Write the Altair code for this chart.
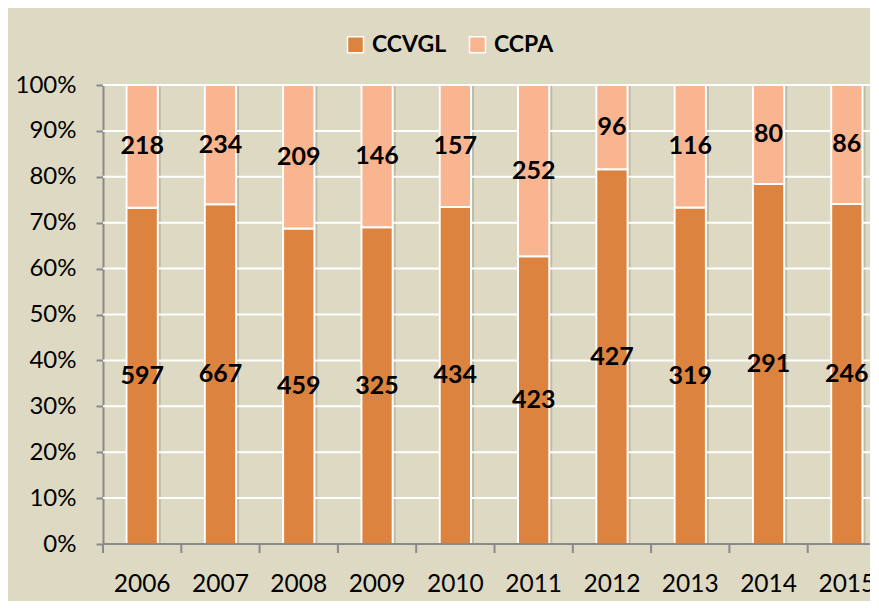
import altair as alt
import pandas as pd

years = ["2006", "2007", "2008", "2009", "2010", "2011", "2012", "2013", "2014", "2015"]
ccvgl = [597, 667, 459, 325, 434, 423, 427, 319, 291, 246]
ccpa = [218, 234, 209, 146, 157, 252, 96, 116, 80, 86]
series = ["CCVGL", "CCPA"]
colors = ["#dc843f", "#f8b590"]
y_ticks = [i / 10 for i in range(11)]

rows = []
for i, y in enumerate(years):
    rows.append({"year": y, "series": "CCVGL", "value": ccvgl[i], "order": 0})
    rows.append({"year": y, "series": "CCPA", "value": ccpa[i], "order": 1})
df = pd.DataFrame(rows)
ydf = pd.DataFrame({"year": years})
gdf = pd.DataFrame({"v": y_ticks})

FONT = "Lato"
GREY = "#8a8a8a"
STEP = 78.3
W = 767
H = 459

xscale = alt.Scale(domain=years, range=[0, STEP * len(years)], paddingInner=0, paddingOuter=0)
yscale = alt.Scale(domain=[0, 1])

grid = alt.Chart(gdf).mark_rule(color="white", strokeWidth=2).encode(
    y=alt.Y("v:Q", scale=yscale),
    x=alt.value(0),
    x2=alt.value(W),
)

stacked = alt.Chart(df).transform_stack(
    stack="value", groupby=["year"], as_=["y0", "y1"], offset="normalize",
    sort=[alt.SortField("order", order="ascending")],
).transform_calculate(mid="(datum.y0 + datum.y1) / 2")

shadow = alt.Chart(ydf).mark_bar(
    color="#000000", opacity=0.14, width=alt.RelativeBandSize(0.45), xOffset=1
).encode(
    x=alt.X("year:N", scale=xscale),
    y=alt.datum(0, scale=yscale),
    y2=alt.datum(1),
)

bars = stacked.mark_bar(
    stroke="white", strokeWidth=2, width=alt.RelativeBandSize(0.4)
).encode(
    x=alt.X(
        "year:N",
        scale=xscale,
        title=None,
        axis=alt.Axis(
            labelAngle=0, labelAlign="center", labelFont=FONT, labelFontSize=24.5,
            labelColor="black", ticks=False, labelPadding=40,
            domain=False, grid=False,
        ),
    ),
    y=alt.Y("y0:Q", scale=yscale, title=None,
            axis=alt.Axis(
                format="%", values=y_ticks,
                labelFont=FONT, labelFontSize=24, labelColor="black",
                tickColor=GREY, tickSize=7, tickWidth=2, labelPadding=20,
                domainColor=GREY, domainWidth=2, grid=False,
            )),
    y2="y1:Q",
    color=alt.Color(
        "series:N",
        scale=alt.Scale(domain=series, range=colors),
        legend=alt.Legend(
            title=None, orient="none", direction="horizontal",
            legendX=241, legendY=-52,
            symbolType="square", symbolSize=256, symbolStrokeColor="white",
            symbolStrokeWidth=1.5, symbolOpacity=1,
            labelFont=FONT, labelFontSize=23, labelFontWeight="bold",
            labelColor="black", labelOffset=5, columnPadding=19,
        ),
    ),
)

labels = stacked.mark_text(
    font=FONT, fontSize=25, fontWeight="bold", color="black", baseline="middle"
).encode(
    x=alt.X("year:N", scale=xscale),
    y=alt.Y("mid:Q", scale=yscale),
    text=alt.Text("value:Q"),
)

xdomain = alt.Chart(ydf).mark_rule(color=GREY, strokeWidth=2).encode(
    x=alt.value(0),
    x2=alt.value(W),
    y=alt.value(H),
)

ticks = alt.Chart(ydf).mark_rule(color=GREY, strokeWidth=2, xOffset=-STEP / 2).encode(
    x=alt.X("year:N", scale=xscale),
    y=alt.value(H),
    y2=alt.value(H + 9),
)

chart = alt.layer(shadow, grid, bars, labels, xdomain, ticks).properties(
    width=W,
    height=H,
    autosize=alt.AutoSizeParams(type="none"),
    padding={"left": 95, "top": 77, "right": 0, "bottom": 57},
    background="#ddd9c3",
).configure_view(stroke=None)

chart.save("out.html", embed_options={"renderer": "svg", "actions": False})
